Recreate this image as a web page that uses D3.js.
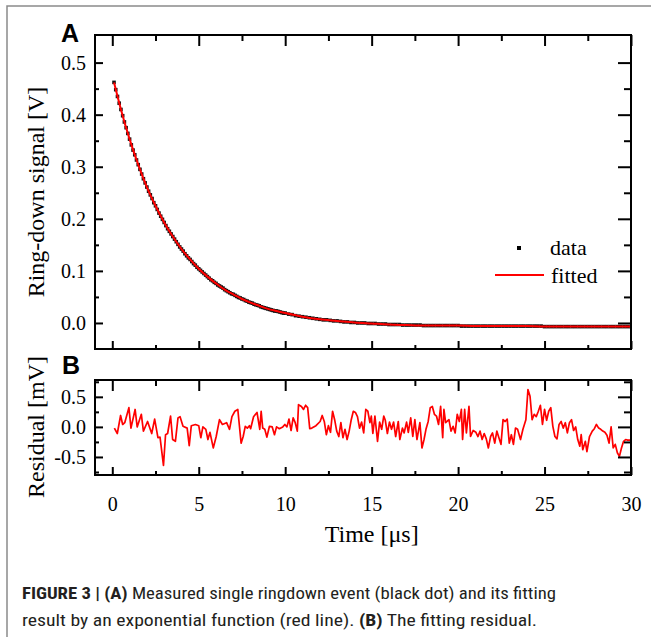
<!DOCTYPE html>
<html>
<head>
<meta charset="utf-8">
<script src="https://cdn.jsdelivr.net/npm/d3@7"></script>
<style>
  html, body { margin: 0; padding: 0; background: #fff; }
  svg { display: block; }
</style>
</head>
<body>
<div id="chart"></div>
<script>
// measured ring-down signal [V], sampled every 0.1 us up to 10 us, then every 0.2 us
const dataTime = d3.range(1, 101).map(i => i / 10).concat(d3.range(51, 151).map(i => i / 5));
const dataSignal = [
  0.462, 0.448, 0.435, 0.422, 0.410, 0.398, 0.386, 0.375, 0.364, 0.353,
  0.342, 0.332, 0.323, 0.313, 0.304, 0.295, 0.286, 0.277, 0.269, 0.261,
  0.253, 0.246, 0.239, 0.231, 0.225, 0.218, 0.211, 0.205, 0.199, 0.193,
  0.187, 0.181, 0.176, 0.171, 0.166, 0.161, 0.156, 0.151, 0.146, 0.142,
  0.138, 0.133, 0.129, 0.125, 0.122, 0.118, 0.114, 0.111, 0.107, 0.104,
  0.101, 0.098, 0.095, 0.092, 0.089, 0.086, 0.083, 0.081, 0.078, 0.076,
  0.073, 0.071, 0.069, 0.067, 0.064, 0.062, 0.060, 0.058, 0.056, 0.055,
  0.053, 0.051, 0.049, 0.048, 0.046, 0.045, 0.043, 0.042, 0.040, 0.039,
  0.038, 0.036, 0.035, 0.034, 0.033, 0.031, 0.030, 0.029, 0.028, 0.027,
  0.026, 0.025, 0.024, 0.023, 0.023, 0.022, 0.021, 0.020, 0.019, 0.019,
  // 10.2 .. 30 us
  0.017, 0.016, 0.014, 0.013, 0.012, 0.011, 0.010, 0.009, 0.008, 0.007,
  0.006, 0.006, 0.005, 0.004, 0.004, 0.003, 0.002, 0.002, 0.001, 0.001,
  0.000, 0.000, 0.000, -0.001, -0.001, -0.001, -0.002, -0.002, -0.002, -0.003,
  -0.003, -0.003, -0.003, -0.004, -0.004, -0.004, -0.004, -0.004, -0.004, -0.005,
  -0.005, -0.005, -0.005, -0.005, -0.005, -0.005, -0.005, -0.005, -0.005, -0.005,
  -0.006, -0.006, -0.006, -0.006, -0.006, -0.006, -0.006, -0.006, -0.006, -0.006,
  -0.006, -0.006, -0.006, -0.006, -0.006, -0.006, -0.006, -0.006, -0.006, -0.006,
  -0.006, -0.006, -0.006, -0.006, -0.007, -0.007, -0.007, -0.007, -0.007, -0.007,
  -0.007, -0.007, -0.007, -0.007, -0.007, -0.007, -0.007, -0.007, -0.007, -0.007,
  -0.007, -0.007, -0.007, -0.007, -0.007, -0.007, -0.007, -0.007, -0.007, -0.007
];

// exponential fit [V]
const fitTime = [0.1, 0.5, 1, 1.5, 2, 2.5, 3, 3.5, 4, 4.5, 5, 5.5, 6, 6.5, 7, 7.5, 8, 8.5, 9, 9.5, 10,
  11, 12, 13, 14, 15, 16, 17, 18, 19, 20, 21, 22, 23, 24, 25, 26, 27, 28, 29, 30];
const fitSignal = [0.462, 0.410, 0.353, 0.304, 0.261, 0.225, 0.193, 0.166, 0.142, 0.122, 0.104,
  0.089, 0.076, 0.064, 0.055, 0.046, 0.039, 0.033, 0.027, 0.023, 0.019,
  0.012, 0.007, 0.004, 0.001, -0.001, -0.003, -0.004, -0.005, -0.005, -0.005,
  -0.006, -0.006, -0.006, -0.006, -0.007, -0.007, -0.007, -0.007, -0.007, -0.007];

// fitting residual [mV]
const resTime = [0.12, 0.29, 0.48, 0.60, 0.72, 0.96, 1.08, 1.32, 1.44, 1.68, 1.80, 2.04, 2.28, 2.45, 2.64, 2.76,
  2.96, 3.08, 3.20, 3.37, 3.49, 3.65, 3.80, 3.92, 4.09, 4.33, 4.45, 4.57, 4.81, 5.00, 5.12, 5.24,
  5.41, 5.53, 5.65, 5.84, 6.01, 6.20, 6.37, 6.61, 6.78, 6.92, 7.09, 7.26, 7.45, 7.57, 7.69, 7.81,
  7.93, 8.00, 8.17, 8.37, 8.53, 8.61, 8.70, 8.82, 8.94, 9.09, 9.25, 9.38, 9.50, 9.66, 9.86, 9.98,
  10.10, 10.22, 10.34, 10.46, 10.58, 10.70, 10.77, 10.94, 11.06, 11.18, 11.30, 11.42, 11.54, 11.78,
  12.02, 12.14, 12.26, 12.38, 12.50, 12.62, 12.74, 12.86, 12.98, 13.10, 13.22, 13.34, 13.46, 13.58,
  13.70, 13.82, 13.94, 14.06, 14.18, 14.30, 14.42, 14.54, 14.66, 14.78, 14.90, 14.98, 15.07, 15.19,
  15.34, 15.46, 15.58, 15.70, 15.79, 15.91, 16.03, 16.15, 16.27, 16.39, 16.54, 16.63, 16.78, 16.88,
  17.02, 17.12, 17.26, 17.38, 17.50, 17.62, 17.79, 17.91, 18.03, 18.15, 18.27, 18.39, 18.51, 18.63,
  18.75, 18.87, 18.99, 19.11, 19.18, 19.28, 19.47, 19.59, 19.71, 19.83, 19.95, 20.07, 20.19, 20.26,
  20.38, 20.48, 20.63, 20.72, 20.87, 21.03, 21.15, 21.27, 21.39, 21.51, 21.63, 21.75, 21.88, 21.99,
  22.12, 22.24, 22.36, 22.48, 22.60, 22.72, 22.84, 22.96, 23.08, 23.20, 23.32, 23.44, 23.61, 23.75,
  23.92, 24.04, 24.16, 24.28, 24.40, 24.52, 24.64, 24.76, 24.88, 25.00, 25.12, 25.24, 25.36, 25.48,
  25.60, 25.72, 25.84, 25.96, 26.08, 26.20, 26.32, 26.44, 26.56, 26.68, 26.80, 26.92, 27.04, 27.12,
  27.21, 27.36, 27.45, 27.60, 27.76, 27.88, 28.00, 28.13, 28.25, 28.37, 28.49, 28.61, 28.73, 28.85,
  28.97, 29.09, 29.21, 29.33, 29.45, 29.57, 29.69, 29.81, 30.00];
const resValue = [-0.02, -0.11, 0.19, 0.04, 0.07, 0.32, -0.02, 0.29, 0.00, 0.21, -0.07, 0.09, -0.11, 0.13, -0.18, -0.17,
  -0.64, -0.13, -0.11, 0.18, -0.21, -0.24, 0.15, 0.17, 0.01, -0.02, -0.31, 0.02, 0.04, 0.02, -0.18, 0.00,
  -0.04, -0.21, -0.09, -0.35, -0.16, 0.12, 0.04, 0.07, -0.04, 0.17, 0.26, 0.29, -0.27, -0.16, 0.01, -0.02,
  0.02, -0.03, 0.17, 0.24, -0.04, 0.26, -0.02, -0.04, -0.17, 0.01, 0.00, -0.13, 0.00, -0.03, 0.00, 0.04,
  0.00, 0.13, -0.06, 0.15, 0.07, -0.07, 0.37, 0.34, 0.29, 0.36, 0.32, -0.03, -0.02, 0.02,
  0.09, 0.19, 0.09, -0.13, 0.02, -0.09, 0.26, 0.12, -0.07, -0.16, 0.07, -0.18, -0.04, -0.21,
  -0.07, 0.12, 0.26, 0.24, 0.17, -0.02, 0.08, -0.10, 0.29, 0.26, 0.07, 0.18, -0.11, 0.18,
  -0.24, 0.08, -0.04, 0.18, 0.11, -0.11, 0.08, -0.04, 0.08, -0.16, 0.09, -0.21, -0.02, -0.10,
  0.08, -0.09, 0.15, -0.16, 0.12, -0.21, 0.07, -0.35, -0.21, -0.03, 0.09, 0.32, 0.34, 0.21,
  0.18, 0.04, 0.34, -0.18, 0.29, 0.07, 0.12, -0.07, 0.01, -0.10, 0.21, 0.09, 0.29, -0.21,
  0.29, -0.10, 0.34, -0.16, -0.06, -0.09, -0.16, -0.07, -0.21, -0.11, -0.20, -0.35, -0.16, -0.10,
  -0.27, -0.07, -0.18, -0.29, 0.12, 0.09, 0.13, -0.27, -0.13, -0.29, -0.02, -0.04, -0.21, -0.04,
  0.12, 0.62, 0.51, 0.12, 0.21, 0.17, 0.26, 0.36, 0.04, 0.29, 0.11, 0.26, 0.32, 0.01,
  -0.16, -0.20, 0.04, 0.09, -0.02, 0.07, -0.10, 0.07, 0.12, -0.06, 0.00, -0.21, -0.32, -0.13,
  -0.38, -0.24, -0.41, -0.16, -0.07, -0.03, 0.04, -0.02, -0.04, -0.07, -0.09, -0.14, -0.27, 0.00,
  -0.35, -0.29, -0.43, -0.49, -0.35, -0.24, -0.21, -0.22, -0.22];

const xTicks = [0, 5, 10, 15, 20, 25, 30];
const xMinor = [2.5, 7.5, 12.5, 17.5, 22.5, 27.5];
const topTicks = [0, 0.1, 0.2, 0.3, 0.4, 0.5];
const topMinor = [0.05, 0.15, 0.25, 0.35, 0.45];
const resTicks = [-0.5, 0, 0.5];
const resMinor = [-0.75, -0.25, 0.25, 0.75];

const W = 651, H = 637;
const left = 95, right = 631;
const serif = "'Liberation Serif', 'Times New Roman', serif";
const sans = "'Liberation Sans', Arial, sans-serif";

const svg = d3.select("#chart").append("svg")
  .attr("width", W).attr("height", H);

// figure frame (top and left edges)
svg.append("path")
  .attr("d", `M7,${H} L7,6 L${W},6`)
  .attr("fill", "none").attr("stroke", "#8a8a8a").attr("stroke-width", 1.5);

const x = d3.scaleLinear().domain([-1, 30]).range([left, right]);
const yTop = d3.scaleLinear().domain([-0.05, 0.553]).range([349, 35]);
const yRes = d3.scaleLinear().domain([-0.8, 0.78]).range([475, 380]);

// draws the box and inward ticks of a panel
function panelAxes(y, top, bottom, major, minor, fmt, showX) {
  const g = svg.append("g");
  const add = (axis, tx, ty, label) => {
    const a = g.append("g").attr("transform", `translate(${tx},${ty})`).call(axis);
    a.select(".domain").remove();
    a.selectAll("line").attr("stroke", "#000").attr("stroke-width", 2);
    a.selectAll("text").attr("font-family", serif).attr("font-size", 20).attr("fill", "#000");
    if (!label) a.selectAll("text").remove();
    return a;
  };
  // left
  add(d3.axisLeft(y).tickValues(major).tickSize(-8).tickPadding(9).tickFormat(fmt), left, 0, true);
  add(d3.axisLeft(y).tickValues(minor).tickSize(-4), left, 0, false);
  // right
  add(d3.axisRight(y).tickValues(major).tickSize(-13), right, 0, false);
  add(d3.axisRight(y).tickValues(minor).tickSize(-7), right, 0, false);
  // top
  add(d3.axisTop(x).tickValues(xTicks).tickSize(-11), 0, top, false);
  add(d3.axisTop(x).tickValues(xMinor).tickSize(-6), 0, top, false);
  // bottom
  add(d3.axisBottom(x).tickValues(xTicks).tickSize(-8).tickPadding(22).tickFormat(d3.format("d")), 0, bottom, showX);
  add(d3.axisBottom(x).tickValues(xMinor).tickSize(-4), 0, bottom, false);

  g.append("rect")
    .attr("x", left).attr("y", top)
    .attr("width", right - left).attr("height", bottom - top)
    .attr("fill", "none").attr("stroke", "#000").attr("stroke-width", 2);
  return g;
}

const fmt1 = d => d.toFixed(1);

// ---- panel A
svg.append("clipPath").attr("id", "clipA")
  .append("rect").attr("x", left).attr("y", 35).attr("width", right - left).attr("height", 314);

const plotA = svg.append("g").attr("clip-path", "url(#clipA)");
plotA.selectAll("rect.dot")
  .data(dataTime.map((t, i) => [t, dataSignal[i]]))
  .enter().append("rect")
  .attr("class", "dot")
  .attr("x", d => x(d[0]) - 1.8).attr("y", d => yTop(d[1]) - 1.8)
  .attr("width", 3.6).attr("height", 3.6)
  .attr("fill", "#111");

plotA.append("path")
  .datum(fitTime.map((t, i) => [t, fitSignal[i]]))
  .attr("d", d3.line().x(d => x(d[0])).y(d => yTop(d[1])).curve(d3.curveMonotoneX))
  .attr("fill", "none").attr("stroke", "#ff0000").attr("stroke-width", 2);

panelAxes(yTop, 35, 349, topTicks, topMinor, fmt1, false);

// ---- panel B
const plotB = svg.append("g");
plotB.append("path")
  .datum(resTime.map((t, i) => [t, resValue[i]]))
  .attr("d", d3.line().x(d => x(d[0])).y(d => yRes(d[1])))
  .attr("fill", "none").attr("stroke", "#ff0000").attr("stroke-width", 1.7)
  .attr("stroke-linejoin", "round");

panelAxes(yRes, 380, 475, resTicks, resMinor, fmt1, true);

// axis titles
svg.append("text")
  .attr("transform", `translate(44,192) rotate(-90)`)
  .attr("text-anchor", "middle")
  .attr("font-family", serif).attr("font-size", 24)
  .text("Ring-down signal [V]");

svg.append("text")
  .attr("transform", `translate(44,427) rotate(-90)`)
  .attr("text-anchor", "middle")
  .attr("font-family", serif).attr("font-size", 24)
  .text("Residual [mV]");

svg.append("text")
  .attr("x", x(15)).attr("y", 542)
  .attr("text-anchor", "middle")
  .attr("font-family", serif).attr("font-size", 24)
  .text("Time [μs]");

// panel letters
svg.append("text").attr("x", 61).attr("y", 42)
  .attr("font-family", sans).attr("font-weight", "bold").attr("font-size", 25).text("A");
svg.append("text").attr("x", 62).attr("y", 374)
  .attr("font-family", sans).attr("font-weight", "bold").attr("font-size", 25).text("B");

// legend
const legend = svg.append("g");
legend.append("rect").attr("x", 517).attr("y", 246).attr("width", 4).attr("height", 4).attr("fill", "#000");
legend.append("text").attr("x", 550).attr("y", 255)
  .attr("font-family", serif).attr("font-size", 22).text("data");
legend.append("line").attr("x1", 495).attr("x2", 544).attr("y1", 275).attr("y2", 275)
  .attr("stroke", "#ff0000").attr("stroke-width", 2);
legend.append("text").attr("x", 551).attr("y", 283)
  .attr("font-family", serif).attr("font-size", 22).text("fitted");

// caption
const capFont = "'Liberation Sans Narrow', 'Arial Narrow', 'Roboto Condensed', 'Liberation Sans', sans-serif";
const cap1 = svg.append("text").attr("x", 22).attr("y", 599)
  .attr("font-family", capFont).attr("font-size", 17).attr("fill", "#231f20")
  .attr("textLength", 534).attr("lengthAdjust", "spacingAndGlyphs");
cap1.append("tspan").attr("font-weight", "bold").text("FIGURE 3 | (A)");
cap1.append("tspan").text(" Measured single ringdown event (black dot) and its fitting");

const cap2 = svg.append("text").attr("x", 22).attr("y", 626)
  .attr("font-family", capFont).attr("font-size", 17).attr("fill", "#231f20")
  .attr("textLength", 515).attr("lengthAdjust", "spacingAndGlyphs");
cap2.append("tspan").text("result by an exponential function (red line). ");
cap2.append("tspan").attr("font-weight", "bold").text("(B)");
cap2.append("tspan").text(" The fitting residual.");
</script>
</body>
</html>
